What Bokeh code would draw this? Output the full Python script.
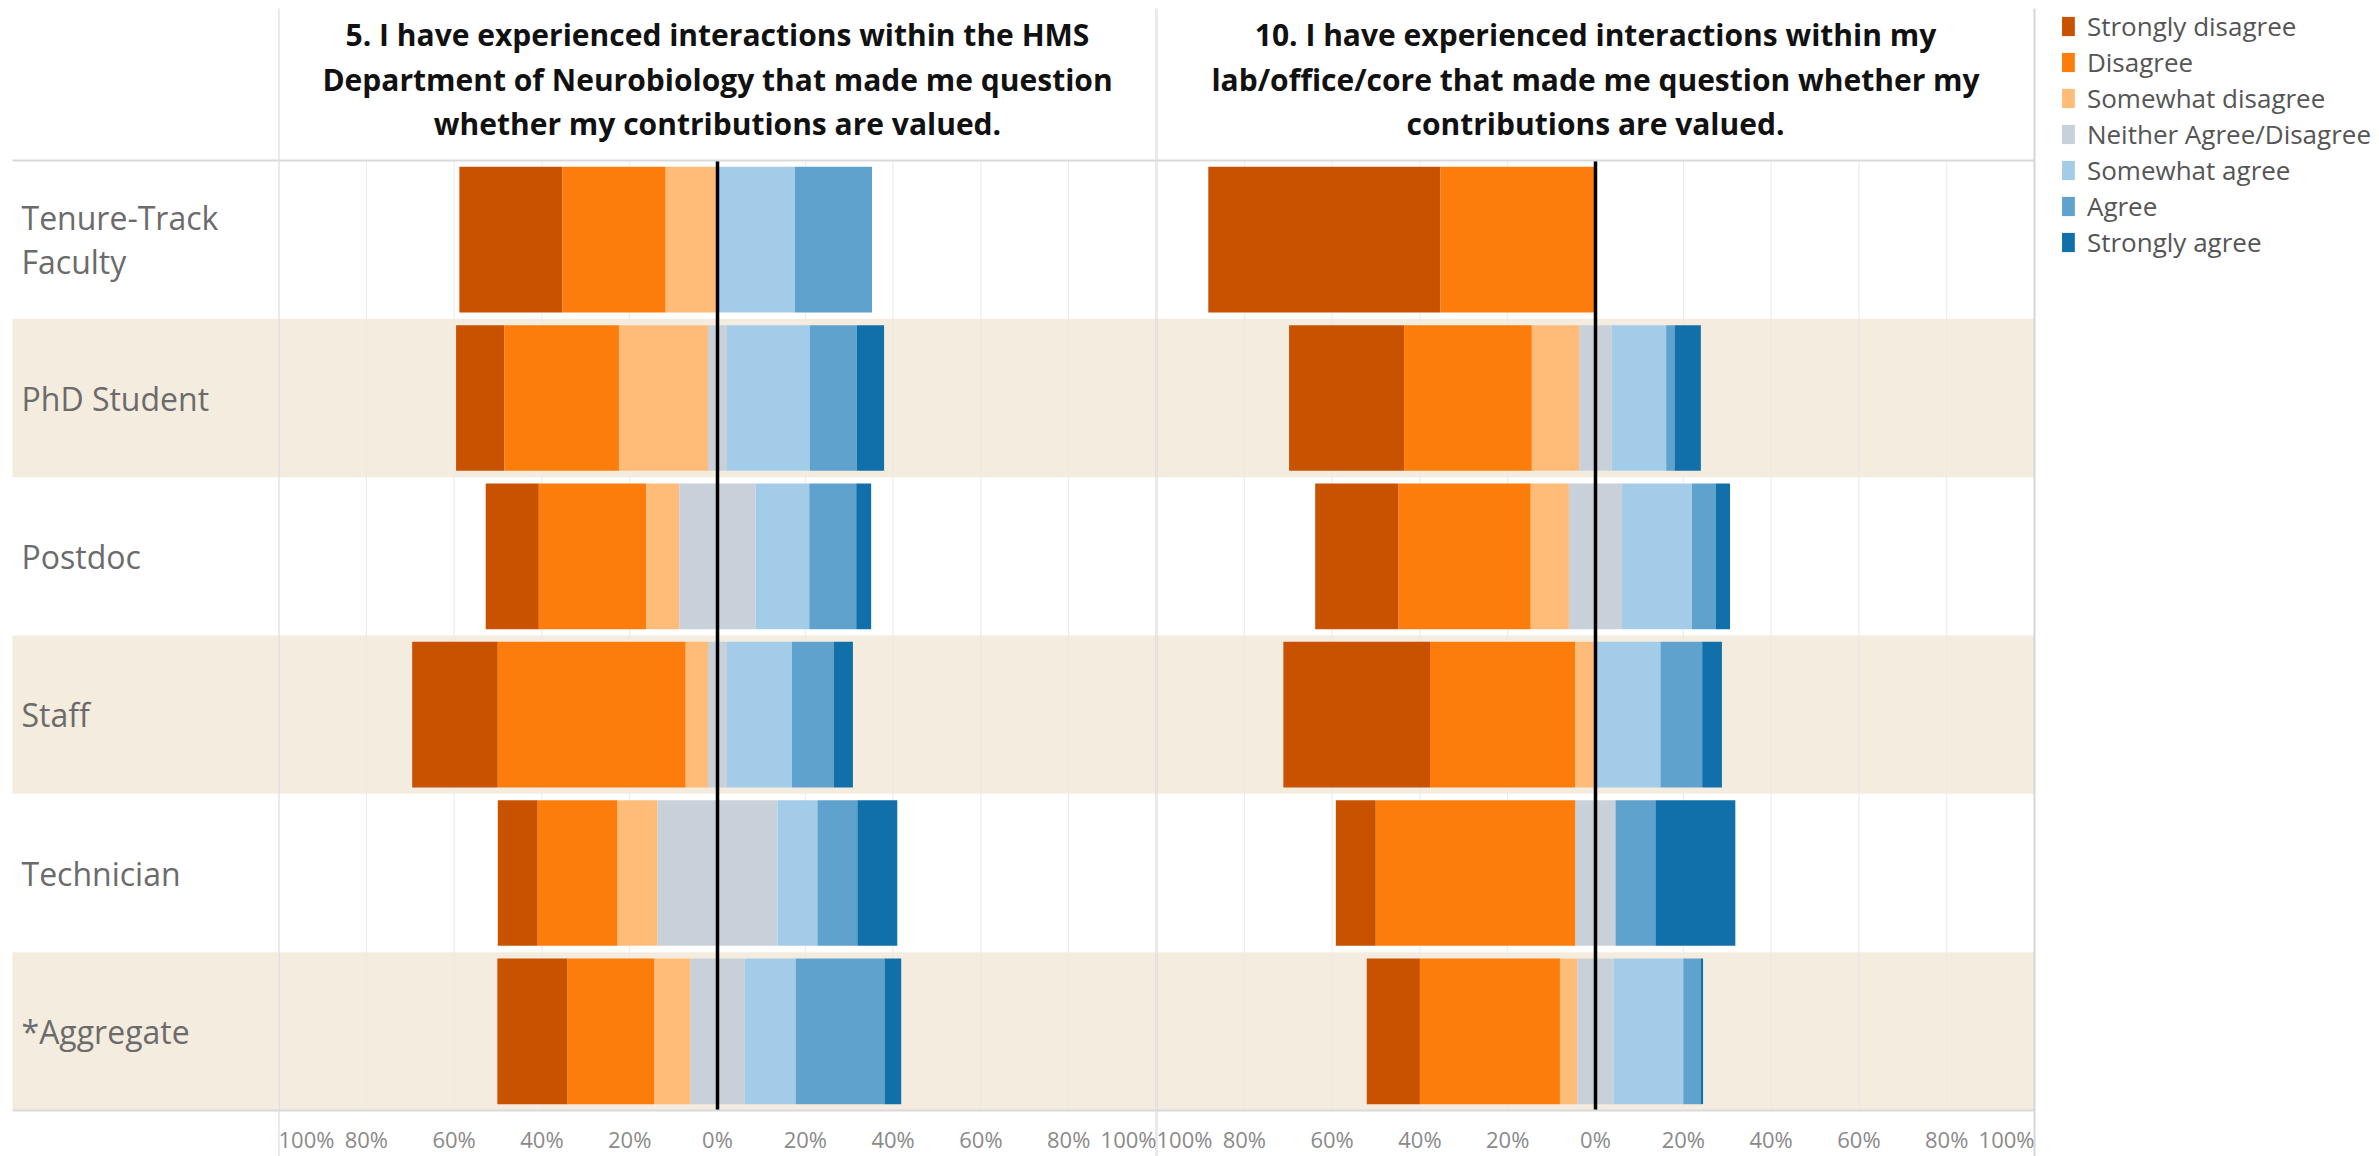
import numpy as np
from bokeh.plotting import figure
from bokeh.models import (ColumnDataSource, Range1d, LinearAxis, FixedTicker,
                          CustomJSTickFormatter, Legend, LegendItem)
from bokeh.layouts import row
from bokeh.embed import file_html
from bokeh.resources import INLINE
from bokeh.core.properties import value

# ---------------- data ----------------
categories = ["Tenure-Track\nFaculty", "PhD Student", "Postdoc", "Staff", "Technician", "*Aggregate"]
responses = ["Strongly disagree", "Disagree", "Somewhat disagree", "Neither Agree/Disagree",
             "Somewhat agree", "Agree", "Strongly agree"]
colors = ["#C85200", "#FC7D0B", "#FFBC79", "#C8D0D9", "#A3CCE9", "#5FA2CE", "#1170AA"]

q5_title = ["5. I have experienced interactions within the HMS",
            "Department of Neurobiology that made me question",
            "whether my contributions are valued."]
q10_title = ["10. I have experienced interactions within my",
             "lab/office/core that made me question whether my",
             "contributions are valued."]

# percentages per category (row order as in `categories`)
q5_strongly_disagree = [23.5, 11.0, 12.1, 19.5, 9.1, 16.0]
q5_disagree          = [23.5, 26.1, 24.5, 42.8, 18.2, 19.8]
q5_somewhat_disagree = [11.8, 20.3, 7.5, 5.1, 9.1, 8.2]
q5_neither           = [0.0, 4.3, 17.4, 4.3, 27.3, 12.3]
q5_somewhat_agree    = [17.6, 18.9, 12.2, 14.8, 9.1, 11.7]
q5_agree             = [17.6, 10.7, 10.7, 9.5, 9.1, 20.2]
q5_strongly_agree    = [0.0, 6.2, 3.4, 4.4, 9.1, 3.8]

q10_strongly_disagree = [52.9, 26.2, 19.0, 33.4, 9.1, 12.1]
q10_disagree          = [35.3, 29.1, 30.1, 33.1, 45.5, 31.9]
q10_somewhat_disagree = [0.0, 10.8, 8.7, 4.6, 0.0, 4.0]
q10_neither           = [0.0, 7.4, 12.1, 0.0, 9.1, 8.2]
q10_somewhat_agree    = [0.0, 12.4, 15.9, 14.8, 0.0, 15.9]
q10_agree             = [0.0, 1.9, 5.4, 9.5, 9.1, 4.0]
q10_strongly_agree    = [0.0, 6.0, 3.3, 4.5, 18.2, 0.5]

tick_values = [-0.8, -0.6, -0.4, -0.2, 0.0, 0.2, 0.4, 0.6, 0.8]
edge_values = [-1.0, 1.0]

# ---------------- layout constants ----------------
LABEL_W = 278
PANEL_W = 878
LEGEND_W = 345
HEADER_PX = 160
ROWS_PX = 950
AXIS_PX = 46
FRAME_H = HEADER_PX + ROWS_PX + AXIS_PX
ROW_PX = ROWS_PX / len(categories)

BAND = "#F4EDDF"
GRID = "#E9E9E9"
BORDER = "#D6D6D6"
LINE = "#D9D9D9"
TICK_COLOR = "#8A8A8A"
FONT = "Open Sans"

y_pos = np.arange(len(categories))[::-1].astype(float)  # top row highest
band_y = y_pos[1::2]
y_rows_bottom = -0.5
y_rows_top = len(categories) - 0.5
y_top = y_rows_top + HEADER_PX / ROW_PX
y_min = y_rows_bottom - AXIS_PX / ROW_PX
yr = Range1d(y_min, y_top)


def diverging(vals):
    v = [np.asarray(a, dtype=float) / 100.0 for a in vals]
    half = v[3] / 2.0
    segs = {3: (-half, half)}
    r = -half
    for k in (2, 1, 0):
        segs[k] = (r - v[k], r)
        r = r - v[k]
    l = half
    for k in (4, 5, 6):
        segs[k] = (l, l + v[k])
        l = l + v[k]
    return segs


def base_fig(width, x_range):
    p = figure(frame_width=width, frame_height=FRAME_H, x_range=x_range, y_range=yr,
               toolbar_location=None, output_backend="svg",
               x_axis_location=None, y_axis_location=None,
               min_border_left=0, min_border_right=0, min_border_top=0,
               min_border_bottom=0, outline_line_color=None,
               background_fill_color="white", border_fill_color="white")
    p.grid.visible = False
    return p


# ---------------- label column ----------------
lp = base_fig(LABEL_W, Range1d(0, LABEL_W))
lp.hbar(y=band_y, left=12, right=LABEL_W, height=1, fill_color=BAND, line_color=None)
lp.segment(x0=[12, 12], x1=[LABEL_W, LABEL_W], y0=[y_rows_top, y_rows_bottom],
           y1=[y_rows_top, y_rows_bottom], line_color=LINE, line_width=2)
lp.text(x=21, y=y_pos, text=categories, text_align="left", text_baseline="middle",
        text_font=value(FONT), text_font_size="32px", text_color="#6B6B6B", text_line_height=1.02)


def panel(title_lines, vals, with_legend=False):
    x_end = 1 + (LEGEND_W / (PANEL_W / 2.0) if with_legend else 0)
    p = base_fig(PANEL_W + (LEGEND_W if with_legend else 0), Range1d(-1, x_end))
    p.hbar(y=band_y, left=-1, right=1, height=1, fill_color=BAND, line_color=None)
    grid_x = [t for t in tick_values if t != 0]
    p.segment(x0=grid_x, x1=grid_x, y0=y_rows_bottom, y1=y_rows_top, line_color=GRID, line_width=1)
    segs = diverging(vals)
    renderers = []
    for k, resp in enumerate(responses):
        src = ColumnDataSource(dict(y=y_pos, left=segs[k][0], right=segs[k][1]))
        r = p.hbar(y="y", left="left", right="right", height=0.92, source=src,
                   fill_color=colors[k], line_color=None)
        renderers.append(r)
    p.segment(x0=[0], x1=[0], y0=[y_rows_bottom], y1=[y_rows_top], line_color="black", line_width=3.5)
    p.segment(x0=[-1, -1], x1=[1, 1], y0=[y_rows_top, y_rows_bottom], y1=[y_rows_top, y_rows_bottom],
              line_color=LINE, line_width=2)
    p.segment(x0=edge_values, x1=edge_values, y0=y_min, y1=y_top - 8 / ROW_PX,
              line_color=BORDER, line_width=2)
    title_y = [y_top - (34 + i * 44.5) / ROW_PX for i in range(len(title_lines))]
    p.text(x=0, y=title_y, text=title_lines, text_align="center", text_baseline="middle",
           text_font=value(FONT), text_font_style="bold", text_font_size="30px", text_color="#111111")
    ax = LinearAxis(ticker=FixedTicker(ticks=tick_values), fixed_location=y_rows_bottom,
                    formatter=CustomJSTickFormatter(code="return Math.round(Math.abs(tick)*100) + '%';"),
                    axis_line_color=None, major_tick_line_color=None, minor_tick_line_color=None,
                    major_tick_out=0, major_tick_in=0,
                    major_label_text_font=FONT, major_label_text_font_size="22px",
                    major_label_text_color=TICK_COLOR, major_label_standoff=13)
    p.add_layout(ax, "below")
    p.text(x=edge_values, y=y_rows_bottom, text=["%d%%" % round(abs(e) * 100) for e in edge_values],
           text_align=["left", "right"], text_baseline="top", y_offset=13,
           text_font=value(FONT), text_font_size="22px", text_color=TICK_COLOR)
    if with_legend:
        items = [LegendItem(label=resp, renderers=[r]) for resp, r in zip(responses, renderers)]
        leg = Legend(items=items, location="top_right", orientation="vertical",
                     border_line_color=None, background_fill_alpha=0,
                     label_text_font=FONT, label_text_font_size="26px", label_text_color="#555555",
                     glyph_width=16, glyph_height=24, label_standoff=11, spacing=0,
                     padding=0, margin=8, label_height=24)
        p.add_layout(leg)
    return p


p5 = panel(q5_title, [q5_strongly_disagree, q5_disagree, q5_somewhat_disagree, q5_neither,
                      q5_somewhat_agree, q5_agree, q5_strongly_agree])
p10 = panel(q10_title, [q10_strongly_disagree, q10_disagree, q10_somewhat_disagree, q10_neither,
                        q10_somewhat_agree, q10_agree, q10_strongly_agree], with_legend=True)

layout = row(lp, p5, p10, spacing=0)
open("out.html", "w").write(file_html(layout, INLINE))
